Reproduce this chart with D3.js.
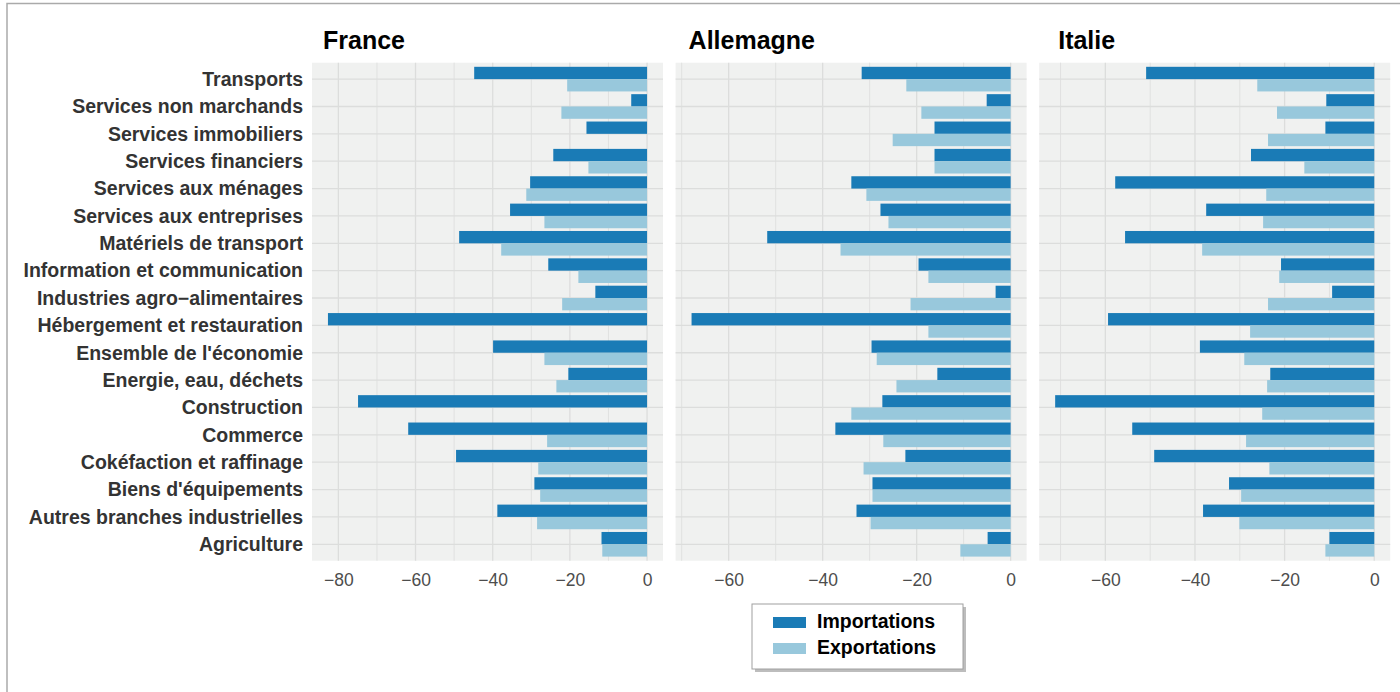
<!DOCTYPE html>
<html>
<head>
<meta charset="utf-8">
<script src="https://cdn.jsdelivr.net/npm/d3@7"></script>
<style>
	body { margin: 0; background: #fff; }
	svg { display: block; font-family: "Liberation Sans", Arial, sans-serif; }
</style>
</head>
<body>
<div id="chart"></div>
<script>
// categories, top to bottom
const categories = [
	"Transports",
	"Services non marchands",
	"Services immobiliers",
	"Services financiers",
	"Services aux ménages",
	"Services aux entreprises",
	"Matériels de transport",
	"Information et communication",
	"Industries agro\u2212alimentaires",
	"Hébergement et restauration",
	"Ensemble de l'économie",
	"Energie, eau, déchets ",
	"Construction",
	"Commerce",
	"Cokéfaction et raffinage",
	"Biens d'équipements",
	"Autres branches industrielles",
	"Agriculture"
];

const countries = ["France", "Allemagne", "Italie"];
const seriesNames = ["Importations", "Exportations"];

const franceImp = [-44.8, -4.1, -15.7, -24.3, -30.3, -35.5, -48.7, -25.6, -13.4, -82.7, -39.9, -20.4, -74.9, -61.9, -49.5, -29.2, -38.8, -11.8];
const franceExp = [-20.7, -22.2, 0, -15.2, -31.3, -26.6, -37.8, -17.8, -22.0, 0, -26.6, -23.5, 0, -25.9, -28.2, -27.7, -28.5, -11.6];

const allemagneImp = [-31.7, -5.1, -16.2, -16.2, -33.9, -27.7, -51.8, -19.6, -3.2, -67.9, -29.6, -15.6, -27.3, -37.3, -22.4, -29.4, -32.8, -4.9];
const allemagneExp = [-22.2, -19.0, -25.1, -16.2, -30.7, -26.0, -36.2, -17.5, -21.3, -17.5, -28.5, -24.3, -33.9, -27.1, -31.3, -29.4, -29.8, -10.7];

const italieImp = [-50.9, -10.7, -10.9, -27.5, -57.8, -37.5, -55.6, -20.8, -9.4, -59.4, -38.9, -23.2, -71.2, -54.0, -49.1, -32.4, -38.2, -10.0];
const italieExp = [-26.1, -21.7, -23.7, -15.6, -24.1, -24.8, -38.4, -21.2, -23.7, -27.7, -29.0, -23.9, -25.0, -28.6, -23.4, -29.7, -30.1, -10.9];

const imports = [franceImp, allemagneImp, italieImp];
const exports = [franceExp, allemagneExp, italieExp];

const COLORS = ["#1a7bb6", "#98c8dc"];
const W = 1400, H = 692;
const PANEL = { left: 312, top: 62.7, width: 351, height: 498, gap: 12.6 };
const TITLE_DX = [11, 13, 19];

const svg = d3.select("#chart").append("svg").attr("width", W).attr("height", H);

// frame
svg.append("path")
	.attr("d", `M7,${H} V3.5 H${W}`)
	.attr("fill", "none")
	.attr("stroke", "#aaaaaa")
	.attr("stroke-width", 1.5);

const yScale = d3.scalePoint()
	.domain(categories)
	.range([PANEL.top, PANEL.top + PANEL.height])
	.padding(0.6);
const step = yScale.step();
const barH = step * 0.45;

// category labels
svg.append("g")
	.selectAll("text")
	.data(categories)
	.join("text")
	.attr("x", PANEL.left - 9)
	.attr("y", (d) => yScale(d))
	.attr("dy", "0.35em")
	.attr("text-anchor", "end")
	.attr("font-size", "19.5px")
	.attr("font-weight", "bold")
	.attr("fill", "#333333")
	.text((d) => d);

countries.forEach((country, ci) => {
	const x0 = PANEL.left + ci * (PANEL.width + PANEL.gap);
	const imp = imports[ci], exp = exports[ci];
	const minV = d3.min(imp.concat(exp));
	const pad = (0 - minV) * 0.05;
	const xScale = d3.scaleLinear()
		.domain([minV - pad, pad])
		.range([x0, x0 + PANEL.width]);

	const g = svg.append("g").attr("class", "panel");
	g.append("rect")
		.attr("x", x0).attr("y", PANEL.top)
		.attr("width", PANEL.width).attr("height", PANEL.height)
		.attr("fill", "#f0f1f0");

	// grid
	const minor = xScale.ticks(10).filter((t) => t % 20 !== 0);
	g.selectAll(".minor")
		.data(minor)
		.join("line")
		.attr("x1", (d) => xScale(d)).attr("x2", (d) => xScale(d))
		.attr("y1", PANEL.top).attr("y2", PANEL.top + PANEL.height)
		.attr("stroke", "#e0e1e0").attr("stroke-width", 1);
	g.selectAll(".major")
		.data(xScale.ticks(5))
		.join("line")
		.attr("x1", (d) => xScale(d)).attr("x2", (d) => xScale(d))
		.attr("y1", PANEL.top).attr("y2", PANEL.top + PANEL.height)
		.attr("stroke", "#dcdddc").attr("stroke-width", 1.3);
	g.selectAll(".hgrid")
		.data(categories)
		.join("line")
		.attr("x1", x0).attr("x2", x0 + PANEL.width)
		.attr("y1", (d) => yScale(d)).attr("y2", (d) => yScale(d))
		.attr("stroke", "#dcdddc").attr("stroke-width", 1.3);

	// bars
	[imp, exp].forEach((vals, si) => {
		g.selectAll(".bar" + si)
			.data(categories.map((c, i) => ({ c, v: vals[i] })))
			.join("rect")
			.attr("x", (d) => xScale(Math.min(0, d.v)))
			.attr("width", (d) => Math.abs(xScale(d.v) - xScale(0)))
			.attr("y", (d) => (si === 0 ? yScale(d.c) - barH : yScale(d.c)))
			.attr("height", barH)
			.attr("fill", COLORS[si]);
	});

	// axis labels
	const axis = d3.axisBottom(xScale).ticks(5).tickSize(0).tickPadding(13);
	const ag = g.append("g")
		.attr("transform", `translate(0,${PANEL.top + PANEL.height})`)
		.call(axis);
	ag.select(".domain").remove();
	ag.selectAll("text")
		.attr("font-size", "17.5px")
		.attr("font-family", "'Liberation Sans', Arial, sans-serif")
		.attr("fill", "#4d4d4d");

	// title
	g.append("text")
		.attr("x", x0 + TITLE_DX[ci])
		.attr("y", PANEL.top - 13.4)
		.attr("font-size", "25px")
		.attr("font-weight", "bold")
		.attr("fill", "#000")
		.text(country);
});

// legend
const legend = svg.append("g").attr("transform", "translate(752,604)");
legend.append("rect")
	.attr("x", 3).attr("y", 3).attr("width", 211).attr("height", 65)
	.attr("fill", "#bdbdbd");
legend.append("rect")
	.attr("x", 0).attr("y", 0).attr("width", 211).attr("height", 65)
	.attr("fill", "#fff").attr("stroke", "#a0a0a0").attr("stroke-width", 1);
seriesNames.forEach((name, i) => {
	legend.append("rect")
		.attr("x", 21).attr("y", 13 + i * 26)
		.attr("width", 33).attr("height", 11)
		.attr("fill", COLORS[i]);
	legend.append("text")
		.attr("x", 65).attr("y", 24 + i * 26)
		.attr("font-size", "19.5px")
		.attr("font-weight", "bold")
		.attr("fill", "#000")
		.text(name);
});
</script>
</body>
</html>
